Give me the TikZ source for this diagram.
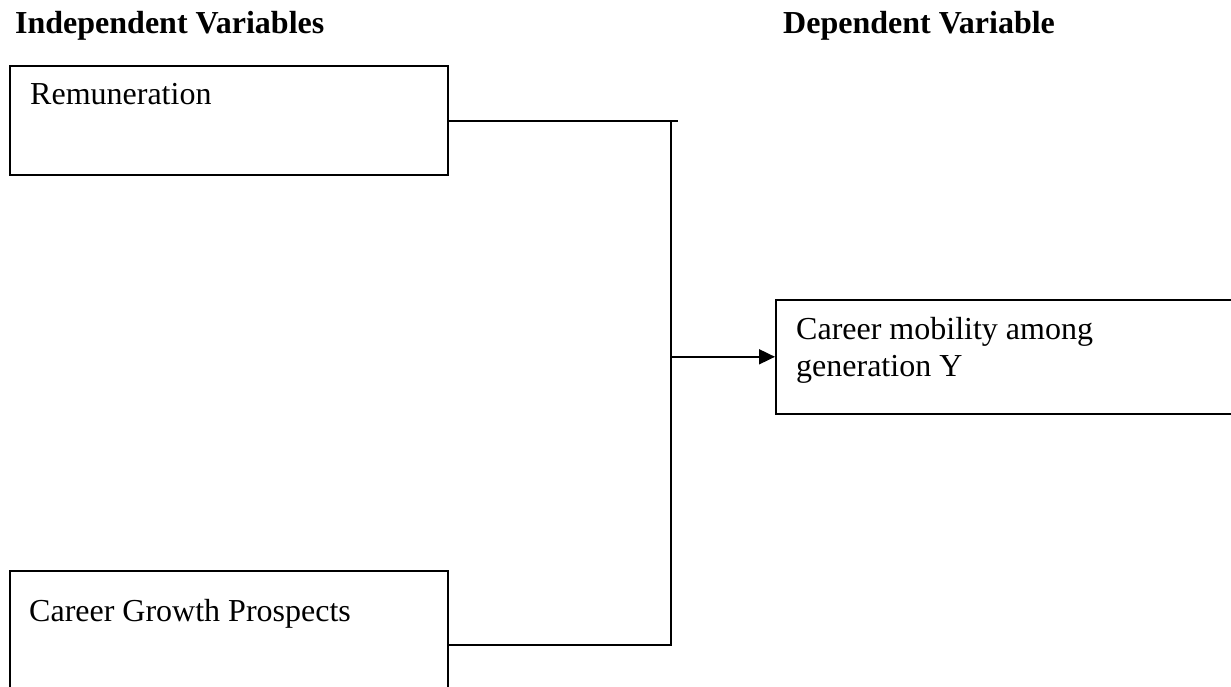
\documentclass[tikz,border=0pt]{standalone}
\usepackage{fontspec}
\setmainfont{Liberation Serif}
\usetikzlibrary{arrows.meta}
\usetikzlibrary{positioning}

\begin{document}
\begin{tikzpicture}[
x=1pt, y=-1pt,
box/.style ={shape=rectangle, draw=black, line width=1.6pt, inner sep=0pt, anchor=north west},
txt/.style ={anchor=base west, inner sep=0pt, font=\fontsize{32}{37}\selectfont},
head/.style ={txt, font=\fontsize{32}{37}\selectfont\bfseries},
link/.style ={line width=1.8pt},
auto]
\useasboundingbox (0,0) rectangle (1231,686);
\clip (0,0) rectangle (1231,686);
\node[head] (iv) at (15,33) {Independent Variables};
\node[head] (dv) at (783,33) {Dependent Variable};
% boxes
\node[box, minimum width=438pt, minimum height=109pt] (rem) at (9,65) { };
\node[box, minimum width=438pt, minimum height=148pt] (cgp) at (9,570) { };
\node[box, minimum width=470pt, minimum height=114pt] (cm) at (775,299) { };
\node[txt] (remt) at (30,104) {Remuneration};
\node[txt] (cgpt) at (29,621) {Career Growth Prospects};
\node[txt] (cmt) at (796,339) {Career mobility among};
\node[txt] (cmt2) at (796,376) {generation Y};
\coordinate (jt) at (671,121);
\coordinate (je) at (678,121);
\draw[link] (rem.east |- jt) -- (je);
\draw[link] (cgp.east) -| (jt);
\draw[link, -{Triangle[length=16pt,width=15pt]}] (jt |- cm.west) -- (cm.west);
\end{tikzpicture}
\end{document}
